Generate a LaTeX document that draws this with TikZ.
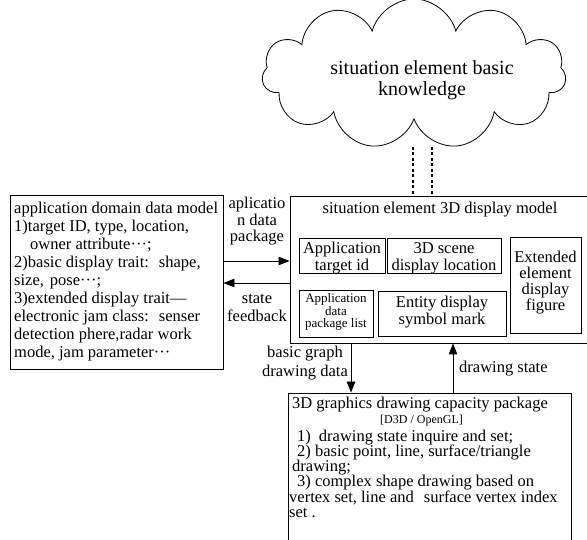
\documentclass[tikz,border=0pt]{standalone}
\usepackage{fontspec}
\setmainfont{Liberation Serif}
\usetikzlibrary{arrows.meta,shapes.symbols}
\newcommand\myfs[2]{\fontsize{#1}{#2}\selectfont}
\begin{document}
\begin{tikzpicture}[x=1pt,y=-1pt,
  box/.style={draw, line width=0.9pt, inner sep=0, rectangle},
  sub/.style={draw, line width=0.6pt, inner sep=0, rectangle},
  txt/.style={inner sep=0, anchor=base},
  arr/.style={line width=0.9pt, -{Triangle[length=11pt,width=8.5pt]}},
  dl/.style={line width=1.3pt, dash pattern=on 3pt off 2.5pt},
]
\useasboundingbox (0,0) rectangle (587,540);
\clip (0,0) rectangle (587,540);

% cloud
\node[cloud, draw, line width=0.8pt, cloud puffs=11, cloud ignores aspect,
      minimum width=304pt, minimum height=150pt, inner sep=0] (cloud) at (414,74) {};
\node[txt] (ct) at (422,75) {\parbox[t]{250pt}{\centering\myfs{20}{21}situation element basic\\knowledge}};

% boxes
\node[box, minimum width=213pt, minimum height=174pt] (left) at (116.5,282) {};
\node[box, minimum width=300pt, minimum height=147pt] (main) at (440,269.5) {};
\node[box, minimum width=283pt, minimum height=167pt] (bot) at (429.5,476.5) {};
\node[sub, minimum width=86pt, minimum height=35pt] (A) at (342,255.5) {};
\node[sub, minimum width=114pt, minimum height=35pt] (B) at (444,255.5) {};
\node[sub, minimum width=74pt, minimum height=47pt] (C) at (336,313.5) {};
\node[sub, minimum width=128pt, minimum height=45pt] (D) at (442,313.5) {};
\node[sub, minimum width=71pt, minimum height=96pt] (E) at (545.5,285) {};

% texts
\node[txt, anchor=base west] (lt) at (14,214) {\parbox[t]{212pt}{\myfs{16.5}{17.9}\raggedright
application domain data model\\
1)target ID, type, location,\\
\hspace*{16pt}owner attribute···;\\
2)basic display trait:\hspace{10pt}shape,\\
size,\hspace{6pt}pose···;\\
3)extended display trait---\\
electronic jam class:\hspace{10pt}senser\\
detection phere,radar work\\
mode, jam parameter···}};

\node[txt] (mt) at (440,214) {\myfs{16.5}{18}situation element 3D display model};
\node[txt] (At) at (342,254) {\parbox[t]{86pt}{\centering\myfs{16.5}{16.5}Application\\target id}};
\node[txt] (Bt) at (444,254) {\parbox[t]{114pt}{\centering\myfs{16.5}{16.5}3D scene\\display location}};
\node[txt] (Ct) at (336,303) {\parbox[t]{74pt}{\centering\myfs{13}{12.5}Application\\data\\package list}};
\node[txt] (Dt) at (442,308) {\parbox[t]{128pt}{\centering\myfs{16.5}{14.5}Entity display\\symbol mark}};
\node[txt] (Et) at (545.5,263) {\parbox[t]{71pt}{\centering\myfs{16.5}{16}Extended\\element\\display\\figure}};

\node[txt, anchor=base west] (bt) at (292,408) {\parbox[t]{282pt}{\myfs{16.5}{15.3}\raggedright
3D graphics drawing capacity package\\
\hspace*{88pt}{\myfs{12}{15.3}[D3D / OpenGL]}\\[2.5pt]
\hspace*{5pt}1)\hspace{8pt}drawing state inquire and set;\\
\hspace*{5pt}2) basic point, line, surface/triangle\\
drawing;\\
\hspace*{5pt}3) complex shape drawing based on\\
\hspace*{-3pt}vertex set, line and\hspace{10pt}surface vertex index\\
\hspace*{-3pt}set .}};

% labels
\node[txt] (l1) at (257,209) {\parbox[t]{70pt}{\centering\myfs{16.5}{16.5}aplicatio\\n data\\package}};
\node[txt] (l2) at (257,304) {\parbox[t]{70pt}{\centering\myfs{16.5}{18}state\\feedback}};
\node[txt] (l3) at (305,358) {\parbox[t]{110pt}{\centering\myfs{16.5}{19}basic graph\\drawing data}};
\node[txt, anchor=base west] (l4) at (459,373) {\myfs{16.5}{18}drawing state};

% connectors
\coordinate (ya) at (0,261);
\coordinate (yb) at (0,283);
\coordinate (xa) at (351,0);
\coordinate (xb) at (453,0);
\coordinate (xc) at (413,0);
\coordinate (xd) at (432,0);
\coordinate (yc) at (0,147);
\draw[arr] (left.east |- ya) -- (main.west |- ya);
\draw[arr] (main.west |- yb) -- (left.east |- yb);
\draw[arr] (main.south -| xa) -- (bot.north -| xa);
\draw[arr] (bot.north -| xb) -- (main.south -| xb);
\draw[dl] (xc |- yc) -- (main.north -| xc);
\draw[dl] (xd |- yc) -- (main.north -| xd);
\end{tikzpicture}
\end{document}
